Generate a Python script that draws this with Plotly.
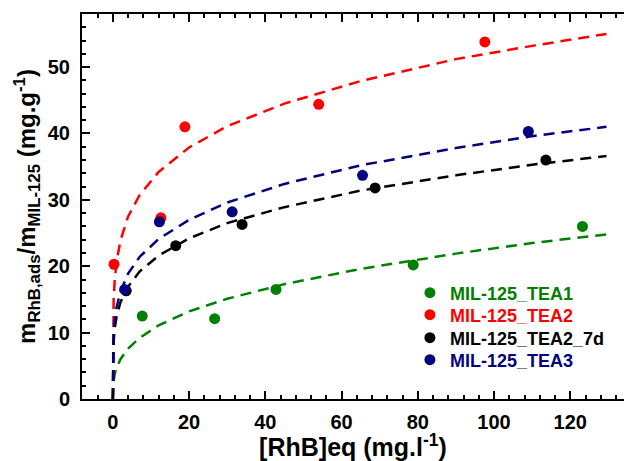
import plotly.graph_objects as go

# ---- measured data points ----
tea1_x = [7.7, 26.7, 42.8, 78.8, 123.2]
tea1_y = [12.5, 12.1, 16.5, 20.2, 26.0]

tea2_x = [0.3, 12.6, 18.9, 54.0, 97.6]
tea2_y = [20.3, 27.3, 41.0, 44.4, 53.8]

tea2_7d_x = [3.5, 16.5, 33.9, 68.8, 113.6]
tea2_7d_y = [16.3, 23.1, 26.3, 31.8, 36.0]

tea3_x = [3.1, 12.2, 31.3, 65.5, 109.0]
tea3_y = [16.5, 26.7, 28.2, 33.7, 40.3]

# ---- fitted curves, values ----
curve_x = [0, 0.05, 0.2, 0.5, 1, 2, 4, 7, 12, 20, 30, 45, 65, 90, 110, 129.5]
fit_tea1 = [0, 1.7, 2.7, 3.8, 4.75, 6.0, 7.6, 9.2, 11.1, 13.2, 15.1, 17.3, 19.6, 21.9, 23.5, 24.8]
fit_tea2 = [0, 11.4, 15.1, 18.1, 20.8, 23.9, 27.5, 30.7, 34.2, 37.9, 41.1, 44.5, 47.9, 51.2, 53.2, 55.0]
fit_tea2_7d = [0, 6.4, 8.7, 10.7, 12.5, 14.6, 16.9, 19.2, 21.6, 24.2, 26.5, 28.9, 31.4, 33.7, 35.3, 36.6]
fit_tea3 = [0, 7.1, 9.7, 11.9, 13.9, 16.2, 18.9, 21.4, 24.1, 27.0, 29.6, 32.4, 35.2, 37.8, 39.6, 41.0]

names = ["MIL-125_TEA1", "MIL-125_TEA2", "MIL-125_TEA2_7d", "MIL-125_TEA3"]
colors = ["#008000", "#FF0000", "#000000", "#000080"]
legend_ids = ["legend", "legend2", "legend3", "legend4"]
legend_y = [0.2753, 0.2182, 0.1584, 0.1013]

FONT = "Liberation Sans, Arial, sans-serif"

fig = go.Figure()

fits = [fit_tea1, fit_tea2, fit_tea2_7d, fit_tea3]
for fy, c in zip(fits, colors):
    fig.add_trace(go.Scatter(x=curve_x, y=fy, mode="lines", showlegend=False,
                             line=dict(color=c, width=2.5, dash="11px,7px"),
                             hoverinfo="skip"))

pts = [(tea1_x, tea1_y), (tea2_x, tea2_y), (tea2_7d_x, tea2_7d_y), (tea3_x, tea3_y)]
for (px, py), n, c, lg in zip(pts, names, colors, legend_ids):
    fig.add_trace(go.Scatter(x=px, y=py, mode="markers", legend=lg,
                             name=n,
                             marker=dict(color=c, size=11, line=dict(width=0))))

axis_common = dict(
    showline=True, linecolor="black", linewidth=2,
    ticks="inside", ticklen=8, tickwidth=2, tickcolor="black",
    showgrid=False, zeroline=False,
    tickfont=dict(family=FONT, size=20, color="black", weight="bold"),
)

legend_layout = {}
for lg, ly, c in zip(legend_ids, legend_y, colors):
    legend_layout[lg] = dict(x=0.605, y=ly, xanchor="left", yanchor="middle",
                             bgcolor="rgba(0,0,0,0)", borderwidth=0,
                             font=dict(family=FONT, size=18, weight="bold", color=c))

fig.update_layout(
    width=624, height=461,
    margin=dict(l=82, r=0, t=14, b=62),
    plot_bgcolor="white", paper_bgcolor="white",
    xaxis=dict(range=[-8.1, 134.1], dtick=20, tick0=0, mirror="ticks",
               ticklabelstandoff=4,
               minor=dict(dtick=4, tick0=0, ticks="inside", ticklen=4, tickwidth=1.5, tickcolor="black"),
               title=dict(text="[RhB]eq (mg.l<sup>-1</sup>)", standoff=4,
                          font=dict(family=FONT, size=25, color="black", weight="bold")),
               **axis_common),
    yaxis=dict(range=[0, 58], dtick=10, tick0=0, mirror=False,
               ticklabelstandoff=6,
               minor=dict(dtick=2, tick0=0, ticks="inside", ticklen=4, tickwidth=1.5, tickcolor="black"),
               title=dict(text="m<sub>RhB,ads</sub>/m<sub>MIL-125</sub> (mg.g<sup>-1</sup>)", standoff=5,
                          font=dict(family=FONT, size=24, color="black", weight="bold")),
               **axis_common),
    showlegend=True,
    **legend_layout,
)

fig.write_html("out.html")
